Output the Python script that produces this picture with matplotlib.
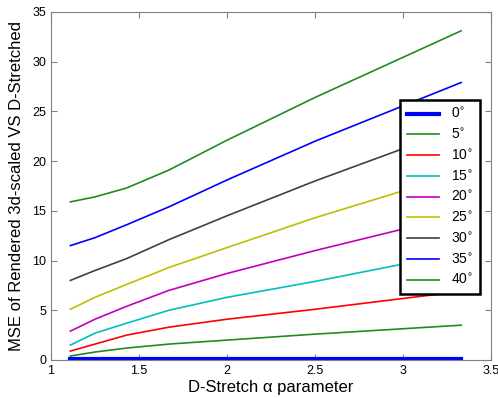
import numpy as np
import matplotlib
matplotlib.use("Agg")
import matplotlib.pyplot as plt

plt.rcParams['font.family'] = ['Liberation Sans', 'DejaVu Sans']

# --- DATA ---
alpha = [1.11, 1.25, 1.43, 1.67, 2.0, 2.5, 3.33]
angles = ['0', '5', '10', '15', '20', '25', '30', '35', '40']
mse_0 = [0.1, 0.1, 0.1, 0.1, 0.1, 0.1, 0.1]
mse_5 = [0.4, 0.8, 1.2, 1.6, 2.0, 2.6, 3.5]
mse_10 = [0.9, 1.6, 2.5, 3.3, 4.1, 5.1, 6.9]
mse_15 = [1.5, 2.7, 3.7, 5.0, 6.3, 7.9, 10.8]
mse_20 = [2.9, 4.1, 5.4, 7.0, 8.7, 11.0, 14.6]
mse_25 = [5.1, 6.3, 7.6, 9.3, 11.3, 14.3, 18.8]
mse_30 = [8.0, 9.0, 10.2, 12.1, 14.5, 18.0, 23.4]
mse_35 = [11.5, 12.3, 13.6, 15.4, 18.1, 22.0, 27.9]
mse_40 = [15.9, 16.4, 17.3, 19.1, 22.1, 26.4, 33.1]

series = [mse_0, mse_5, mse_10, mse_15, mse_20, mse_25, mse_30, mse_35, mse_40]
colors = ['#0000ff', '#218a21', '#ff0000', '#00bfbf', '#bf00bf',
          '#bfbf00', '#404040', '#0000ff', '#218a21']

fig = plt.figure(figsize=(4.98, 3.98), dpi=100)
ax = fig.add_axes([0.1024, 0.0955, 0.8836, 0.8745])

for i, (vals, c) in enumerate(zip(series, colors)):
    lw = 3 if i == 0 else 1.2
    ax.plot(alpha, vals, color=c, linewidth=lw, label=angles[i] + r'$^{\circ}$')

ax.set_xlim(1, 3.5)
ax.set_ylim(0, 35)
ax.set_xticks([1, 1.5, 2, 2.5, 3, 3.5])
ax.set_xticklabels(['1', '1.5', '2', '2.5', '3', '3.5'])
ax.set_yticks(range(0, 36, 5))
ax.tick_params(direction='in', top=True, right=True, labelsize=9, length=4, color='#808080')
for s in ax.spines.values():
    s.set_color('#808080')
    s.set_linewidth(0.8)

ax.set_xlabel('D-Stretch \u03b1 parameter', fontsize=12, labelpad=2)
ax.set_ylabel('MSE of Rendered 3d-scaled VS D-Stretched', fontsize=12, labelpad=6)

leg = ax.legend(loc='upper left', bbox_to_anchor=(0.793, 0.747), fontsize=10,
                handlelength=2.3, fancybox=False, framealpha=1, edgecolor='black',
                borderpad=0.5, labelspacing=0.45, borderaxespad=0, handletextpad=0.9)
leg.get_frame().set_linewidth(1.8)

fig.savefig('out.png', dpi=100)
